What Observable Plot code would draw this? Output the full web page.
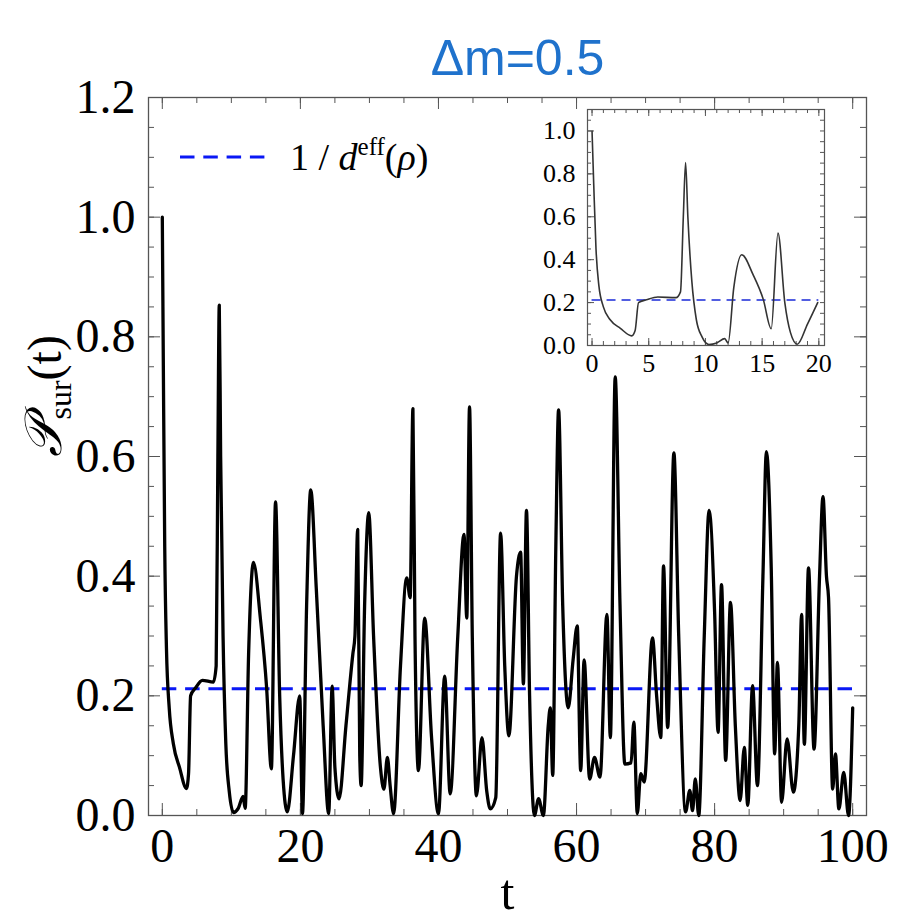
<!DOCTYPE html>
<html><head><meta charset="utf-8">
<script src="https://cdn.jsdelivr.net/npm/d3@7"></script>
<script src="https://cdn.jsdelivr.net/npm/@observablehq/plot@0.6"></script>
<style>
body{margin:0;background:#fff;}
#wrap{position:relative;width:897px;height:920px;overflow:hidden;background:#fff;}
#inset{position:absolute;left:520px;top:100px;}
</style></head><body><div id="wrap"></div>
<script>
// ---- data ----
const tValues = [0,0.15,0.35,0.6,1.0,1.6,2.5,3.5,3.8,4.1,4.8,5.8,7.4,7.8,8.05,8.25,8.45,8.8,9.2,9.7,10.3,11.0,11.7,12.0,12.5,13.2,14.2,15.1,15.8,16.4,17.0,17.5,18.1,19.0,19.9,20.3,20.9,21.5,22.3,23.3,24.1,24.6,25.0,25.6,26.6,27.6,27.9,28.3,28.6,28.8,29.3,29.9,30.6,31.6,32.1,32.6,33.0,33.5,34.5,35.4,35.9,36.3,36.6,37.1,38.0,39.0,40.0,40.9,41.7,42.8,43.7,44.1,44.5,44.9,45.5,46.3,47.0,47.5,48.3,49.0,49.6,50.2,51.3,51.9,52.3,52.75,53.2,53.9,54.5,55.2,55.9,56.2,56.55,57.0,57.4,58.0,58.8,59.5,60.1,60.6,61.1,61.9,62.6,63.4,64.4,64.9,65.6,66.3,67.0,67.9,68.3,68.8,69.3,69.8,71.0,71.6,72.2,72.6,73.2,74.1,74.8,75.8,76.4,76.8,77.2,77.7,78.5,79.2,80.0,80.5,81.0,81.6,82.3,83.0,83.7,84.3,84.8,85.5,86.2,87.0,87.5,88.2,88.7,89.1,89.7,90.5,91.4,92.2,92.6,93.0,93.6,94.4,95.2,95.7,96.2,96.5,97.1,97.5,98.0,98.7,99.4,100.0];
const pValues = [1.0,0.75,0.45,0.28,0.18,0.12,0.08,0.045,0.07,0.2,0.213,0.226,0.223,0.25,0.6,0.853,0.6,0.3,0.12,0.04,0.005,0.012,0.032,0.012,0.27,0.423,0.33,0.215,0.078,0.524,0.2,0.06,0.006,0.1,0.2,0.003,0.35,0.544,0.38,0.15,0.003,0.216,0.08,0.028,0.15,0.27,0.3,0.478,0.1,0.05,0.35,0.506,0.3,0.08,0.044,0.097,0.05,0.003,0.25,0.397,0.364,0.68,0.3,0.075,0.33,0.13,0.003,0.233,0.036,0.3,0.47,0.33,0.683,0.3,0.033,0.13,0.04,0.011,0.03,0.472,0.25,0.133,0.40,0.44,0.22,0.51,0.2,0.0,0.028,0.0,0.15,0.18,0.067,0.45,0.678,0.35,0.18,0.26,0.317,0.075,0.26,0.061,0.097,0.064,0.336,0.13,0.733,0.35,0.086,0.088,0.156,0.003,0.07,0.056,0.297,0.2,0.13,0.417,0.147,0.606,0.3,0.006,0.042,0.008,0.061,0.0,0.3,0.51,0.34,0.139,0.386,0.092,0.356,0.15,0.025,0.114,0.017,0.217,0.05,0.4,0.608,0.414,0.103,0.256,0.022,0.128,0.039,0.153,0.336,0.119,0.414,0.111,0.4,0.533,0.4,0.364,0.044,0.103,0.011,0.072,0.0,0.18];
const invDeff = 0.212;              // 1/d_eff(rho)
const titleText = "Δm=0.5";
const xTickLabels = [0,20,40,60,80,100];
const yTickLabels = [0.0,0.2,0.4,0.6,0.8,1.0,1.2];
const xMinorTicks = d3.range(0,101,5);
const yMinorTicks = d3.range(0,1.2001,0.05);
const insetXLabels = [0,5,10,15,20];
const insetYLabels = [0.0,0.2,0.4,0.6,0.8,1.0];
const insetXMinor = d3.range(0,21,1);
const insetYMinor = d3.range(0,1.1001,0.05);
const insetTMax = 20;

const data = tValues.map((t,i)=>({t, p:pValues[i]}));
const insetData = data.filter(d=>d.t<=insetTMax);
const serif = "'Liberation Serif','Times New Roman',serif";

// ---- main plot ----
const W=897,H=920,mL=148,mR=31,mT=97,mB=105;
const fw=W-mL-mR, fh=H-mT-mB;
const tMin=d3.min(tValues), tMax=d3.max(tValues);
const fmt1=d3.format(".1f");
const axisGray="#555";
const blue="#0a18f5";

const main = Plot.plot({
  width:W, height:H, marginLeft:mL, marginRight:mR, marginTop:mT, marginBottom:mB,
  style:{fontFamily:serif, background:"white", overflow:"visible", color:"#000"},
  x:{domain:[-2,102]},
  y:{domain:[0,1.2]},
  marks:[
    Plot.tickY(yMinorTicks,{y:d=>d, insetRight:fw-6, stroke:axisGray}),
    Plot.tickY(yTickLabels,{y:d=>d, insetRight:fw-12, stroke:axisGray}),
    Plot.tickY(yMinorTicks,{y:d=>d, insetLeft:fw-6, stroke:axisGray}),
    Plot.tickY(yTickLabels,{y:d=>d, insetLeft:fw-12, stroke:axisGray}),
    Plot.tickX(xMinorTicks,{x:d=>d, insetTop:fh-6, stroke:axisGray}),
    Plot.tickX(xTickLabels,{x:d=>d, insetTop:fh-12, stroke:axisGray}),
    Plot.tickX(xMinorTicks,{x:d=>d, insetBottom:fh-6, stroke:axisGray}),
    Plot.tickX(xTickLabels,{x:d=>d, insetBottom:fh-12, stroke:axisGray}),
    Plot.frame({stroke:axisGray, strokeWidth:1.3}),
    Plot.axisY(yTickLabels,{tickSize:0, tickPadding:13, fontSize:48, tickFormat:fmt1, label:null, fill:"#000"}),
    Plot.axisX(xTickLabels,{tickSize:0, tickPadding:12, fontSize:48, label:null, fill:"#000"}),
    Plot.ruleY([invDeff],{x1:tMin, x2:tMax, stroke:blue, strokeWidth:3, strokeDasharray:"14.5,8.8"}),
    Plot.line(data,{x:"t", y:"p", stroke:"#000", strokeWidth:3.3, curve:"monotone-x"}),
    Plot.text([titleText],{text:d=>d, frameAnchor:"top", dx:10, dy:-58, fontSize:50, fill:"#1f72cc"}),
    Plot.text(["t"],{text:d=>d, frameAnchor:"bottom", dy:93, fontSize:50, fill:"#000"}),
    Plot.text(["YLABEL"],{text:d=>d, frameAnchor:"left", rotate:-90, dx:-103, fontSize:48, fill:"#000"})
  ]
});
document.getElementById("wrap").appendChild(main);
const svg = d3.select(main);
svg.selectAll("text").attr("font-family", serif);
svg.selectAll("text").filter(function(){return this.textContent===titleText;})
  .attr("font-family","'Liberation Sans',Arial,sans-serif");
svg.selectAll("text").filter(function(){return this.textContent==="YLABEL";})
  .html('<tspan font-family="DejaVu Serif, DejaVu Sans" font-style="italic" font-size="52">𝒫</tspan><tspan font-size="32" dy="10">sur</tspan><tspan dy="-10">(t)</tspan>');

// legend
const lg = svg.append("g");
lg.append("line").attr("x1",180).attr("x2",270).attr("y1",157).attr("y2",157)
  .attr("stroke",blue).attr("stroke-width",3).attr("stroke-dasharray","14.5,8.8");
lg.append("text").attr("x",290).attr("y",170).attr("text-anchor","start")
  .attr("font-family",serif).attr("font-size",38).attr("fill","#000")
  .html('1 / <tspan font-style="italic">d</tspan><tspan font-size="25" dy="-15">eff</tspan><tspan dy="15">(</tspan><tspan font-style="italic">ρ</tspan>)');

// ---- inset ----
const iW=320,iH=290,iL=67,iR=16,iT=9,iB=45;
const ifw=iW-iL-iR, ifh=iH-iT-iB;
const inset = Plot.plot({
  width:iW, height:iH, marginLeft:iL, marginRight:iR, marginTop:iT, marginBottom:iB,
  style:{fontFamily:serif, background:"transparent", overflow:"visible"},
  x:{domain:[-0.4,20.5]},
  y:{domain:[0,1.1]},
  marks:[
    Plot.tickY(insetYMinor,{y:d=>d, insetRight:ifw-4, stroke:axisGray}),
    Plot.tickY(insetYLabels,{y:d=>d, insetRight:ifw-7, stroke:axisGray}),
    Plot.tickY(insetYMinor,{y:d=>d, insetLeft:ifw-4, stroke:axisGray}),
    Plot.tickX(insetXMinor,{x:d=>d, insetTop:ifh-4, stroke:axisGray}),
    Plot.tickX(insetXLabels,{x:d=>d, insetTop:ifh-7, stroke:axisGray}),
    Plot.tickX(insetXMinor,{x:d=>d, insetBottom:ifh-4, stroke:axisGray}),
    Plot.tickX(insetXLabels,{x:d=>d, insetBottom:ifh-7, stroke:axisGray}),
    Plot.frame({stroke:axisGray, strokeWidth:1.2}),
    Plot.axisY(insetYLabels,{tickSize:0, tickPadding:12, fontSize:26, tickFormat:fmt1, label:null, fill:"#000"}),
    Plot.axisX(insetXLabels,{tickSize:0, tickPadding:8, fontSize:26, label:null, fill:"#000"}),
    Plot.ruleY([invDeff],{x1:0, x2:insetTMax, stroke:"#1a2ad8", strokeWidth:1.3, strokeDasharray:"9,6"}),
    Plot.line(insetData,{x:"t", y:"p", stroke:"#333", strokeWidth:1.6, curve:"monotone-x"})
  ]
});
inset.id="inset";
d3.select(inset).selectAll("text").attr("font-family", serif);
document.getElementById("wrap").appendChild(inset);
</script>
</body></html>
